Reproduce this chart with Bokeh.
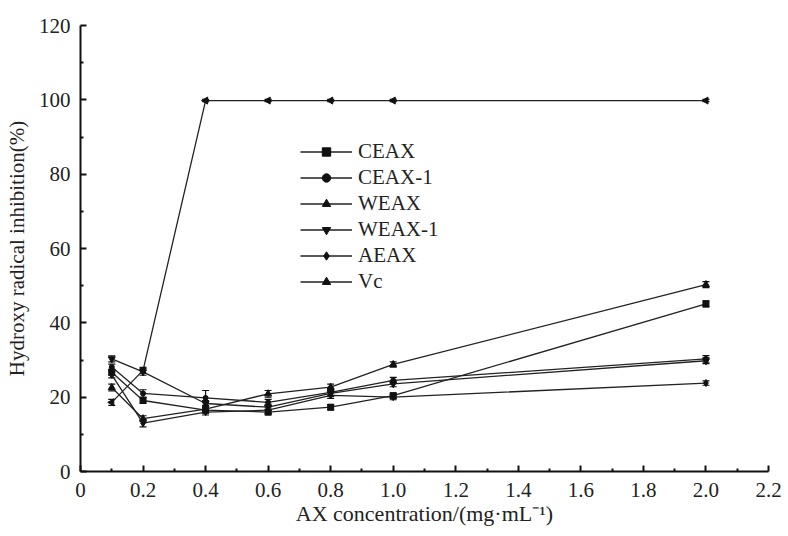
import numpy as np
from bokeh.plotting import figure
from bokeh.models import (Range1d, FixedTicker, CustomJSTickFormatter, Legend, LegendItem,
                          ColumnDataSource, Whisker, TeeHead)
from bokeh.embed import file_html
from bokeh.resources import INLINE

# ---- data ----
conc = [0.1, 0.2, 0.4, 0.6, 0.8, 1.0, 2.0]
CEAX = [26.7, 19.1, 16.5, 16.0, 17.3, 20.4, 45.1]
CEAX_1 = [28.1, 21.0, 19.8, 18.6, 21.3, 24.5, 30.3]
WEAX = [22.6, 14.2, 16.8, 20.9, 22.7, 28.8, 50.3]
WEAX_1 = [30.3, 26.8, 18.3, 17.3, 21.0, 23.6, 29.8]
AEAX = [26.0, 13.0, 16.0, 16.5, 20.5, 20.0, 23.8]
Vc = [18.6, 27.2, 99.8, 99.8, 99.8, 99.8, 99.8]

err_CEAX = [0.8, 0.8, 0.8, 0.8, 0.7, 0.7, 0.8]
err_CEAX_1 = [0.8, 1.0, 2.0, 0.8, 0.8, 0.8, 0.9]
err_WEAX = [0.9, 0.8, 0.8, 0.9, 0.8, 0.7, 0.8]
err_WEAX_1 = [0.8, 0.9, 0.8, 0.8, 0.8, 0.8, 0.8]
err_AEAX = [0.8, 1.0, 0.8, 0.9, 0.8, 0.7, 0.6]
err_Vc = [0.8, 0.8, 0.3, 0.3, 0.3, 0.3, 0.3]

names = ["CEAX", "CEAX-1", "WEAX", "WEAX-1", "AEAX", "Vc"]
series = [CEAX, CEAX_1, WEAX, WEAX_1, AEAX, Vc]
errors = [err_CEAX, err_CEAX_1, err_WEAX, err_WEAX_1, err_AEAX, err_Vc]
markers = ["square", "circle", "triangle", "inverted_triangle", "diamond", "triangle"]
angles = [0, 0, 0, 0, 0, np.pi / 2]
sizes = [6, 5, 7, 7, 7, 7]

x_ticks = [0.0, 0.2, 0.4, 0.6, 0.8, 1.0, 1.2, 1.4, 1.6, 1.8, 2.0, 2.2]
x_minor = [0.1, 0.3, 0.5, 0.7, 0.9, 1.1, 1.3, 1.5, 1.7, 1.9, 2.1]
y_ticks = [0, 20, 40, 60, 80, 100, 120]
y_minor = [10, 30, 50, 70, 90, 110]

FONT = "Liberation Serif"
INK = "#111111"

p = figure(width=788, height=536, output_backend="svg", toolbar_location=None,
           x_range=Range1d(0, 2.2), y_range=Range1d(0, 120),
           min_border_left=80, min_border_right=20, min_border_top=25, min_border_bottom=65)
p.outline_line_color = None
p.grid.visible = False
p.background_fill_color = "white"

for ax in (p.xaxis[0], p.yaxis[0]):
    ax.axis_line_width = 2
    ax.axis_line_color = INK
    ax.major_tick_in = 6
    ax.major_tick_out = 0
    ax.minor_tick_in = 3
    ax.minor_tick_out = 0
    ax.major_tick_line_width = 2
    ax.minor_tick_line_width = 2
    ax.major_tick_line_color = INK
    ax.minor_tick_line_color = INK
    ax.major_label_text_font = FONT
    ax.major_label_text_font_size = "21px"
    ax.major_label_text_color = "#222222"
    ax.axis_label_text_font = FONT
    ax.axis_label_text_font_size = "21px"
    ax.axis_label_text_font_style = "normal"
    ax.axis_label_text_color = "#222222"

p.xaxis.ticker = FixedTicker(ticks=x_ticks, minor_ticks=x_minor)
p.yaxis.ticker = FixedTicker(ticks=y_ticks, minor_ticks=y_minor)
p.xaxis.formatter = CustomJSTickFormatter(code="return Math.abs(tick) < 1e-9 ? '0' : tick.toFixed(1);")
p.xaxis.major_label_standoff = 11
p.yaxis.major_label_standoff = 10
p.xaxis.axis_label_standoff = 1
p.xaxis.axis_label_text_font_size = "22px"
p.yaxis.axis_label_standoff = 7
p.xaxis.axis_label = "AX concentration/(mg\u00b7mL\u207b\u00b9)"
p.yaxis.axis_label = "Hydroxy radical inhibition(%)"

items = []
for name, ys, es, mk, ang, sz in zip(names, series, errors, markers, angles, sizes):
    lo = [y - e for y, e in zip(ys, es)]
    hi = [y + e for y, e in zip(ys, es)]
    src = ColumnDataSource(dict(x=conc, y=ys, lo=lo, hi=hi))
    w = Whisker(source=src, base="x", lower="lo", upper="hi", line_color=INK, line_width=1.2,
                upper_head=TeeHead(size=7, line_color=INK, line_width=1.2),
                lower_head=TeeHead(size=7, line_color=INK, line_width=1.2))
    p.add_layout(w)
    lr = p.line("x", "y", source=src, line_color="#222222", line_width=1.3)
    sr = p.scatter("x", "y", source=src, marker=mk, size=sz, angle=ang,
                   fill_color=INK, line_color=INK)
    items.append(LegendItem(label=name, renderers=[lr, sr]))

legend = Legend(items=items, location=(220, 177), padding=0, margin=0, spacing=1,
                label_text_font=FONT, label_text_font_size="21px", label_text_color="#222222",
                label_height=21, glyph_height=21, glyph_width=52, label_standoff=6,
                background_fill_alpha=0, border_line_color=None)
p.add_layout(legend, "center")

open("out.html", "w").write(file_html(p, INLINE))
